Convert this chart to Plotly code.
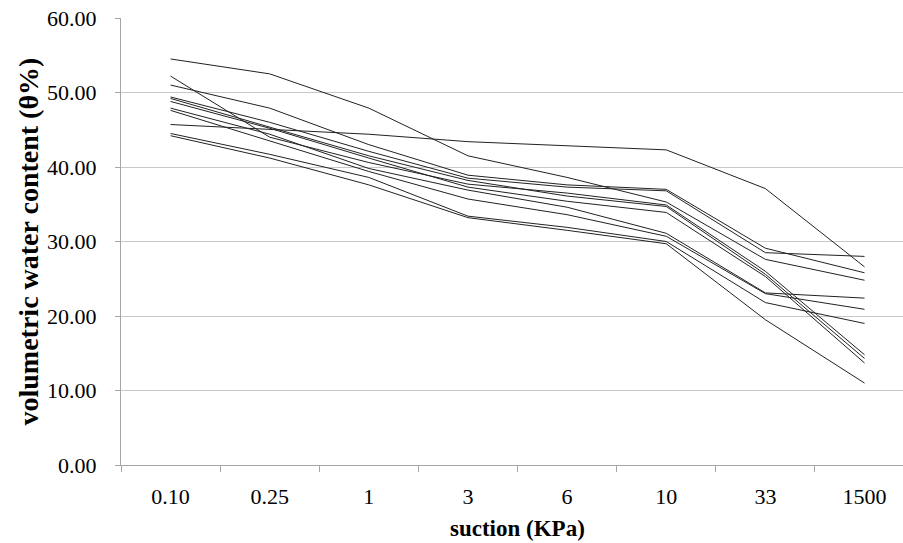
import plotly.graph_objects as go

suction = ["0.10", "0.25", "1", "3", "6", "10", "33", "1500"]

s1 = [54.5, 52.5, 47.9, 41.5, 38.6, 35.3, 27.6, 24.8]
s2 = [45.7, 45.0, 44.4, 43.4, 42.8, 42.3, 37.1, 26.6]
s3 = [51.0, 47.9, 43.0, 38.9, 37.6, 37.0, 29.1, 25.8]
s4 = [49.4, 46.0, 42.1, 38.5, 37.3, 36.8, 28.5, 28.0]
s5 = [52.2, 44.0, 40.6, 37.7, 36.5, 34.9, 26.0, 14.8]
s6 = [49.2, 45.4, 41.5, 38.2, 36.1, 34.7, 25.6, 14.3]
s7 = [48.8, 45.2, 41.2, 37.3, 35.4, 33.9, 25.3, 13.7]
s8 = [47.9, 44.4, 39.8, 36.9, 34.6, 31.1, 23.1, 22.4]
s9 = [47.6, 43.5, 39.4, 35.7, 33.6, 30.7, 23.0, 20.9]
s10 = [44.5, 41.7, 38.6, 33.4, 31.9, 30.0, 21.8, 19.0]
s11 = [44.2, 41.2, 37.6, 33.2, 31.5, 29.7, 19.5, 11.0]

series = [s1, s2, s3, s4, s5, s6, s7, s8, s9, s10, s11]

y_ticks = [0, 10, 20, 30, 40, 50, 60]
y_tick_text = ["0.00", "10.00", "20.00", "30.00", "40.00", "50.00", "60.00"]

fig = go.Figure()
for s in series:
    fig.add_trace(go.Scatter(x=suction, y=s, mode="lines",
                             line=dict(color="#222222", width=1),
                             showlegend=False, hoverinfo="skip"))

FONT = "Liberation Serif, Times New Roman, serif"

fig.update_layout(
    width=903, height=543,
    margin=dict(l=121, r=0, t=18, b=78),
    paper_bgcolor="white", plot_bgcolor="white",
    font=dict(family=FONT, color="black", size=22),
    xaxis=dict(
        type="category", categoryorder="array", categoryarray=suction,
        range=[-0.5, 7.388],
        showgrid=False, zeroline=False,
        showline=True, linecolor="#a6a6a6", linewidth=1,
        ticks="outside", tickson="boundaries", ticklen=6, tickcolor="#a6a6a6",
        tickfont=dict(family=FONT, size=22, color="black"),
        ticklabelstandoff=12,
    ),
    yaxis=dict(
        range=[0, 60], tickvals=y_ticks, ticktext=y_tick_text,
        showgrid=True, gridcolor="#c8c8c8", gridwidth=1,
        zeroline=False,
        showline=True, linecolor="#a6a6a6", linewidth=1,
        ticks="outside", ticklen=5, tickcolor="#a6a6a6",
        tickfont=dict(family=FONT, size=22, color="black"),
        ticklabelstandoff=14,
    ),
    annotations=[
        dict(text="<b>volumetric water content (θ%)</b>", xref="paper", yref="paper",
             x=-121/782 + 28/782, y=0.5, xanchor="center", yanchor="middle",
             textangle=-90, showarrow=False,
             font=dict(family=FONT, size=28, color="black")),
        dict(text="<b>suction (KPa)</b>", xref="paper", yref="paper",
             x=(517.5 - 121) / 782, y=-(528 - 465) / 447, xanchor="center", yanchor="middle",
             showarrow=False,
             font=dict(family=FONT, size=23, color="black")),
    ],
)

fig.write_html("out.html")
